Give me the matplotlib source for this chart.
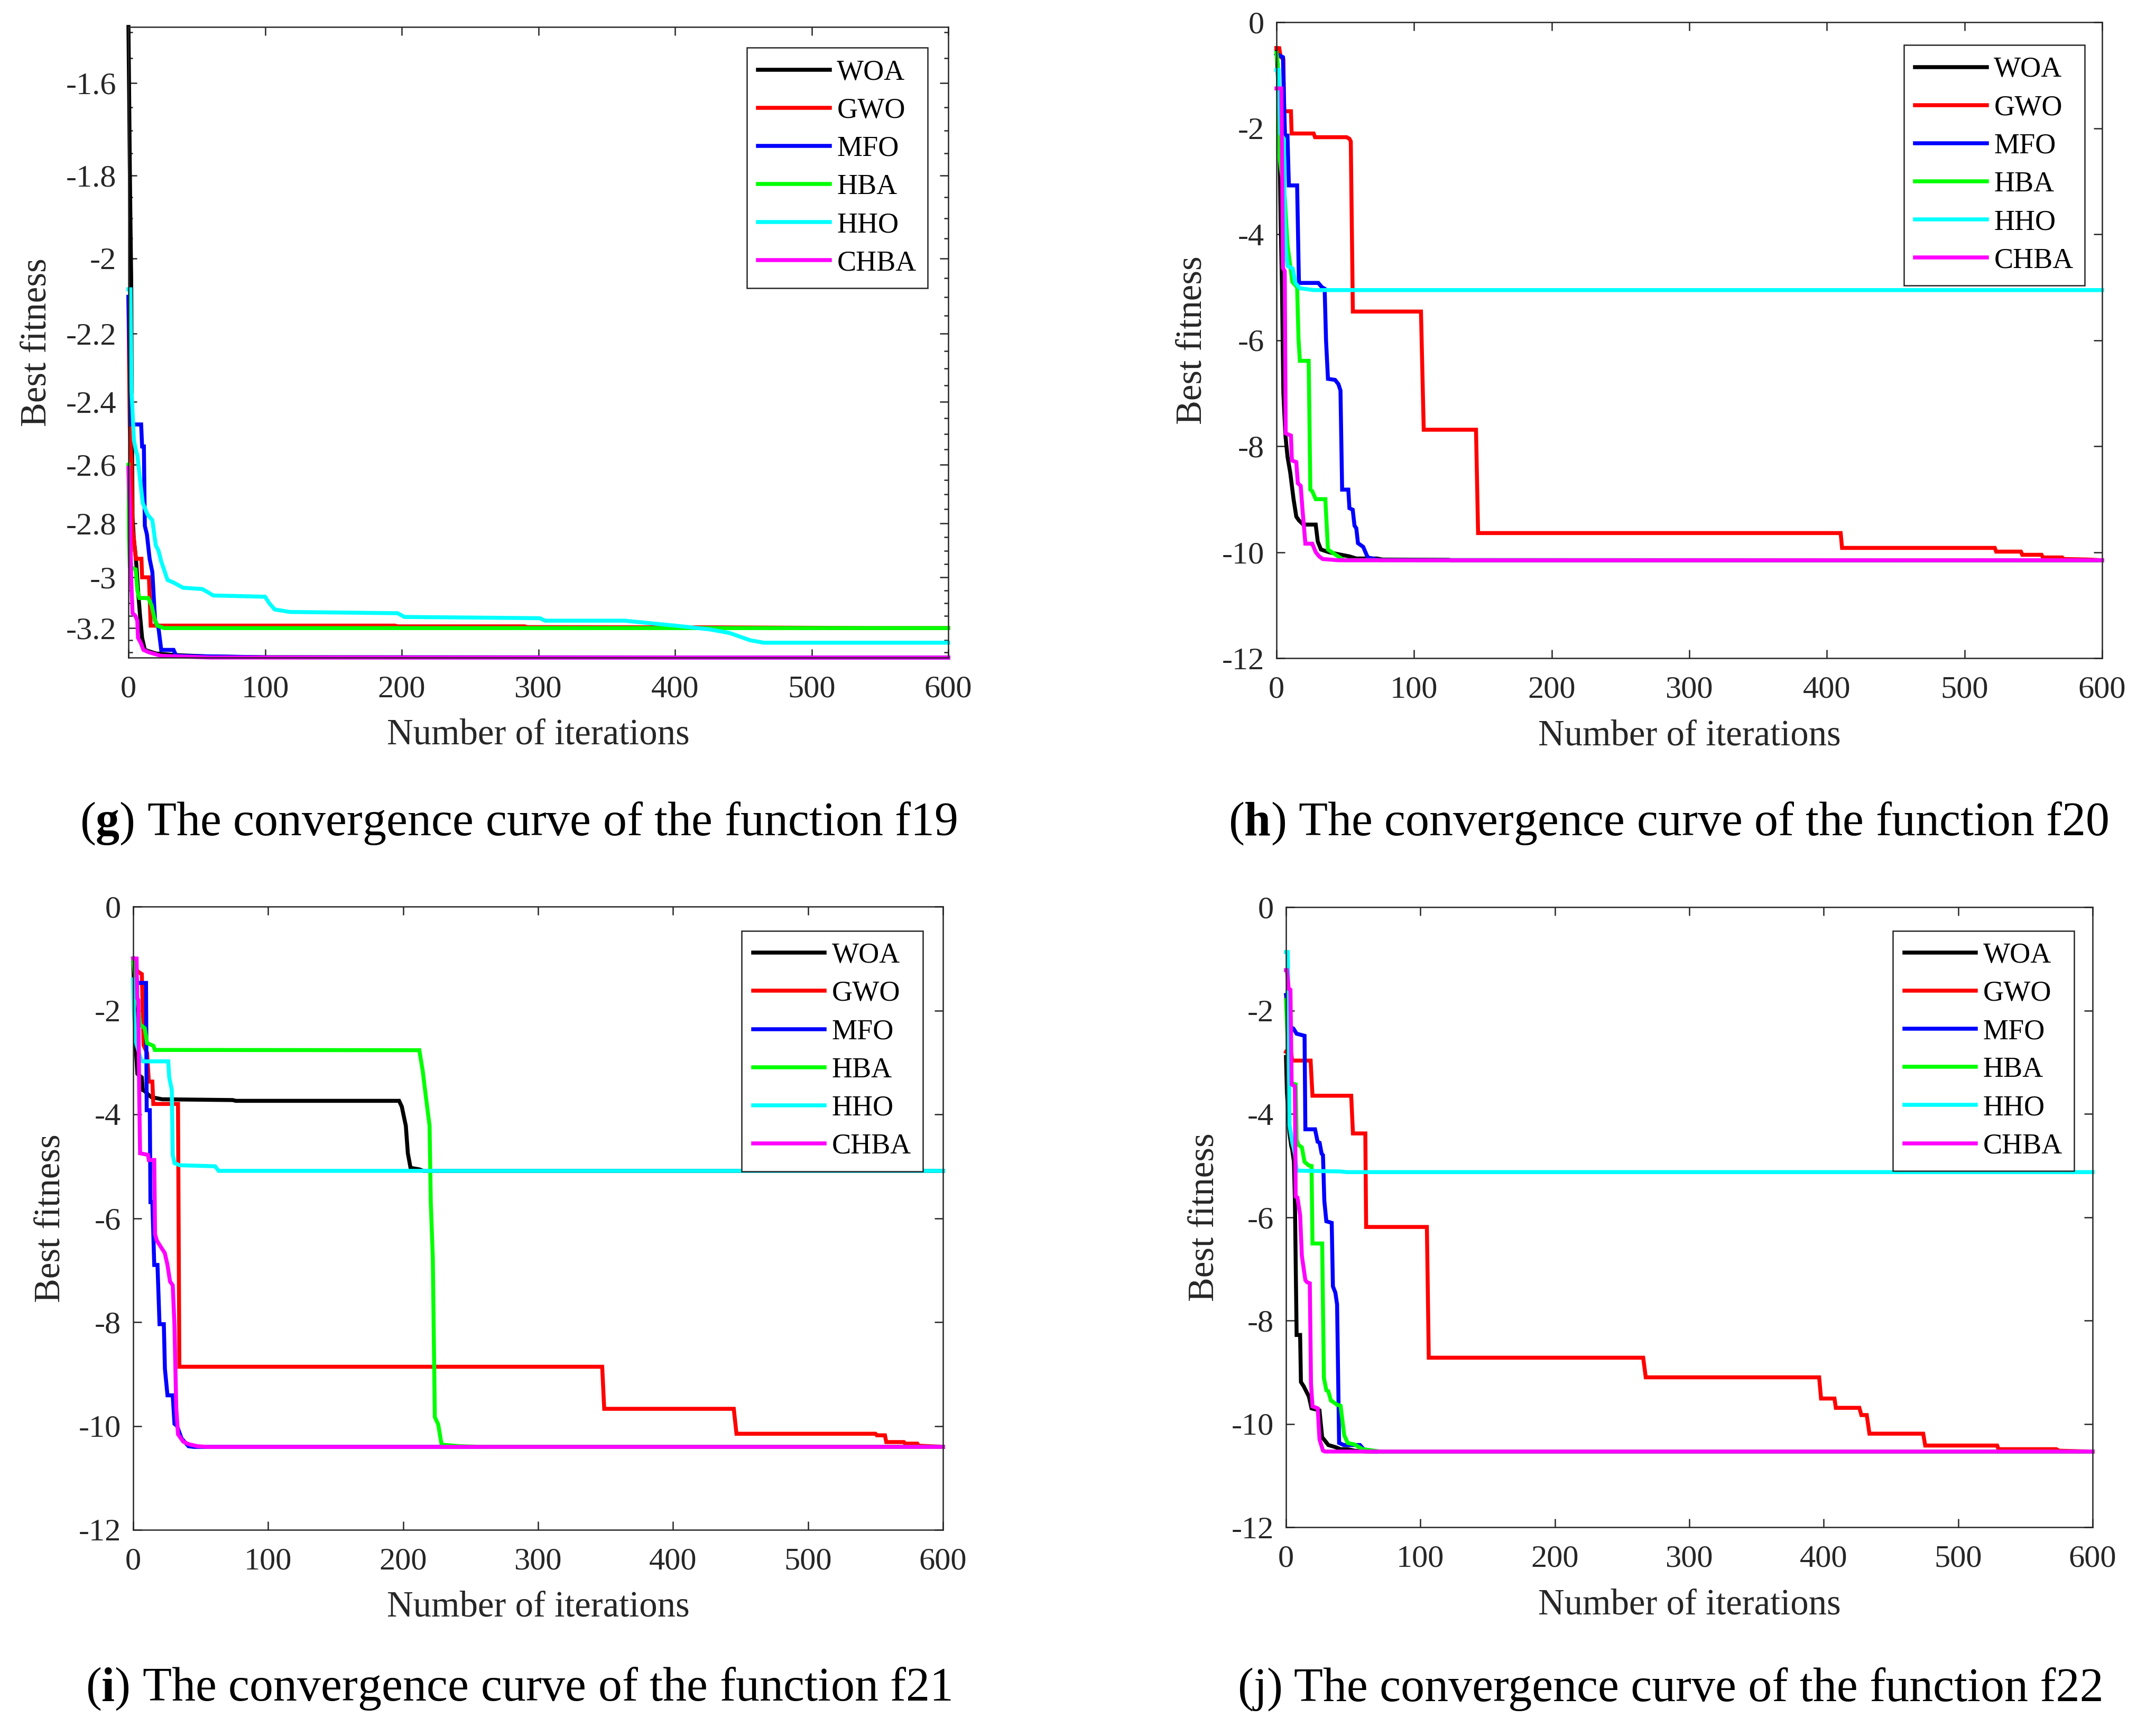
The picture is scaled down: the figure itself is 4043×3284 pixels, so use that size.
import numpy as np
import matplotlib
matplotlib.use("Agg")
import matplotlib.pyplot as plt

plt.rcParams['font.family'] = ['Liberation Serif', 'DejaVu Serif']
plt.rcParams['mathtext.fontset'] = 'custom'
plt.rcParams['mathtext.rm'] = 'Liberation Serif'
plt.rcParams['mathtext.bf'] = 'Liberation Serif:bold'
plt.rcParams['axes.unicode_minus'] = False

ALGOS = ['WOA', 'GWO', 'MFO', 'HBA', 'HHO', 'CHBA']
COLORS = ['#000000', '#ff0000', '#0000ff', '#00ff00', '#00ffff', '#ff00ff']
ITER_TICKS = [0, 100, 200, 300, 400, 500, 600]

# ---- f19 (iteration, best fitness) ----
f19_woa = [(0, -1.49), (0.5, -1.62), (1, -1.78), (1.5, -1.92), (2, -2.05), (2.5, -2.45),
           (3, -2.78), (4, -2.86), (5.5, -2.93), (7, -3.05), (8.5, -3.15), (10, -3.24),
           (12, -3.29), (20, -3.305), (35, -3.312), (60, -3.318), (100, -3.321), (600, -3.3224)]
f19_gwo = [(0, -2.10), (0.5, -2.3), (1, -2.48), (2.2, -2.6), (3, -2.82), (4, -2.86),
           (5.4, -2.93), (9.5, -2.93), (10, -3.0), (15, -3.0), (16.3, -3.19), (195, -3.19),
           (197, -3.193), (290, -3.193), (292, -3.196), (430, -3.197), (540, -3.2), (600, -3.2)]
f19_mfo = [(0, -2.1), (1, -2.3), (2, -2.47), (9.3, -2.47), (10, -2.54), (11.3, -2.54),
           (12, -2.81), (13.5, -2.84), (15.5, -2.93), (17.5, -2.98), (19.5, -3.17), (22, -3.2),
           (24, -3.29), (33, -3.29), (35, -3.315), (100, -3.321), (600, -3.3224)]
f19_hba = [(0, -2.60), (0.4, -2.85), (1, -2.96), (5.3, -2.97), (6.5, -3.05), (8, -3.08),
           (14.5, -3.08), (17, -3.11), (19, -3.16), (21, -3.19), (26, -3.2), (600, -3.2)]
f19_hho = [(0, -2.08), (1.5, -2.08), (2.3, -2.37), (4, -2.52), (5.3, -2.55), (6.6, -2.57),
           (8, -2.63), (10.5, -2.73), (14, -2.77), (17.5, -2.79), (20, -2.88), (22, -2.90),
           (24, -2.94), (26, -2.97), (28.6, -3.01), (33, -3.02), (40, -3.04), (54, -3.045),
           (59, -3.06), (62, -3.07), (100, -3.075), (103, -3.1), (107, -3.125), (118, -3.135),
           (197, -3.14), (202, -3.155), (301, -3.16), (305, -3.17), (363, -3.17), (400, -3.19),
           (425, -3.205), (440, -3.22), (455, -3.25), (465, -3.26), (600, -3.26)]
f19_chba = [(0, -2.61), (1, -2.75), (2, -3.0), (3, -3.14), (5, -3.15), (6.5, -3.17),
            (7, -3.24), (9, -3.26), (11, -3.29), (15, -3.30), (24, -3.315), (60, -3.322),
            (600, -3.3224)]

# ---- f20 ----
f20_woa = [(0, -0.49), (1, -1.0), (2, -2.0), (3, -3.7), (4, -5.0), (5, -7.0), (6.5, -7.8),
           (8, -8.2), (10, -8.5), (12.4, -9.0), (14.4, -9.33), (16.3, -9.4), (19.5, -9.48),
           (28.5, -9.48), (30, -9.8), (32.3, -9.95), (38, -10.0), (45, -10.04), (53, -10.08),
           (58, -10.12), (73, -10.12), (77, -10.14), (125, -10.145), (127, -10.153), (600, -10.153)]
f20_gwo = [(0, -0.49), (2, -0.49), (3, -0.65), (5, -0.7), (5.5, -1.68), (10.5, -1.68),
           (11, -2.10), (27, -2.10), (28, -2.17), (51, -2.17), (53, -2.2), (54, -2.25),
           (55.5, -5.46), (105, -5.46), (107, -7.69), (145, -7.69), (146.5, -9.64), (410, -9.64),
           (411, -9.92), (522, -9.92), (523, -9.99), (541, -9.99), (542, -10.05), (556, -10.05),
           (557, -10.1), (571, -10.1), (572, -10.13), (590, -10.14), (600, -10.153)]
f20_mfo = [(0, -0.6), (4.7, -0.66), (5.5, -1.5), (6.2, -2.14), (8, -2.14), (9, -3.08),
           (15, -3.08), (16.3, -4.92), (30.4, -4.92), (33, -5.0), (35, -5.03), (36, -6.0),
           (37.4, -6.73), (42.6, -6.75), (45, -6.83), (46.5, -6.95), (47.7, -8.82), (52.2, -8.82),
           (53, -9.17), (55.4, -9.2), (56.7, -9.5), (58, -9.55), (59.2, -9.83), (63, -9.9),
           (66.3, -10.1), (75, -10.15), (600, -10.153)]
f20_hba = [(0, -0.58), (1, -0.8), (2, -2.5), (4, -2.9), (6, -3.3), (8, -4.2), (9.5, -4.5),
           (11.5, -4.9), (15, -5.0), (16, -5.97), (17, -6.39), (23.4, -6.39), (24.6, -8.82),
           (26, -8.85), (28.5, -9.0), (35.5, -9.0), (37.4, -9.95), (43, -10.05), (46, -10.1),
           (49, -10.15), (600, -10.153)]
f20_hho = [(0, -0.9), (1.5, -0.9), (2.2, -1.57), (2.8, -2.1), (5.4, -2.2), (6, -3.63),
           (6.7, -4.25), (8, -4.6), (11.8, -4.65), (13.7, -4.92), (17, -5.02), (27, -5.055),
           (600, -5.055)]
f20_chba = [(0, -1.25), (3.5, -1.25), (4.2, -3.0), (4.7, -4.64), (6, -4.7), (6.7, -7.76),
            (10.5, -7.8), (11.2, -8.27), (14.4, -8.3), (15.5, -8.7), (17.6, -8.75), (18.9, -9.2),
            (21, -9.84), (26, -9.84), (28.5, -10.0), (31, -10.08), (33.6, -10.13), (45, -10.153),
            (600, -10.153)]

# ---- f21 ----
f21_woa = [(0, -1.02), (1.8, -2.67), (3.1, -3.22), (6.4, -3.29), (7, -3.53), (8.4, -3.55),
           (11.6, -3.63), (13.6, -3.67), (21.4, -3.71), (73.7, -3.725), (76, -3.74), (197, -3.74),
           (199, -3.85), (202, -4.22), (203.5, -4.75), (205.5, -5.03), (212, -5.06), (215, -5.088),
           (600, -5.088)]
f21_gwo = [(0, -1.0), (2, -1.2), (3.5, -1.25), (6.4, -1.3), (7.7, -2.67), (10.3, -2.82),
           (11.6, -3.37), (14.2, -3.37), (14.9, -3.80), (33.2, -3.80), (34.2, -8.86), (347.5, -8.86),
           (349, -9.67), (445, -9.67), (447, -10.15), (550, -10.15), (551, -10.18), (557, -10.18),
           (558, -10.31), (571, -10.31), (572, -10.34), (581, -10.34), (582, -10.38), (590, -10.39),
           (600, -10.40)]
f21_mfo = [(0, -1.0), (2, -1.3), (3.1, -1.47), (9.5, -1.47), (10, -3.92), (12.3, -3.92),
           (12.8, -5.69), (14.2, -5.69), (15.6, -6.9), (18, -6.9), (19.5, -8.04), (22.7, -8.04),
           (23.5, -8.9), (25.4, -9.41), (29.3, -9.41), (30.6, -9.96), (32.5, -10.0), (35.8, -10.24),
           (41, -10.39), (45, -10.403), (600, -10.403)]
f21_hba = [(0, -1.02), (1.8, -1.5), (5.1, -2.27), (8.5, -2.34), (10.3, -2.63), (15, -2.68),
           (16, -2.76), (212, -2.765), (214.5, -3.16), (217, -3.69), (219.6, -4.22), (220.5, -5.7),
           (222, -6.76), (223.5, -9.83), (226, -9.97), (228.5, -10.36), (242, -10.39), (260, -10.403),
           (600, -10.403)]
f21_hho = [(0, -1.4), (0.5, -2.0), (1.8, -2.59), (5.7, -2.94), (7, -2.98), (26, -2.98),
           (26.7, -3.29), (28.6, -3.53), (29.3, -4.78), (30.6, -4.94), (34.5, -4.98), (60.7, -5.0),
           (63.3, -5.088), (600, -5.088)]
f21_chba = [(0, -1.0), (2.5, -1.0), (3, -1.77), (3.8, -1.8), (4.4, -3.5), (5.1, -4.75),
            (11, -4.78), (11.6, -4.88), (15.6, -4.88), (16.2, -6.31), (17.5, -6.43), (21.4, -6.59),
            (23.4, -6.67), (25.4, -6.9), (27.3, -7.22), (29.3, -7.29), (30.6, -8.08), (31.9, -9.65),
            (33.2, -10.16), (37, -10.3), (41, -10.35), (47.6, -10.39), (55, -10.403), (600, -10.403)]

# ---- f22 ----
f22_woa = [(0, -2.9), (0.7, -3.6), (2.6, -4.38), (3.9, -4.62), (4.6, -4.69), (5.9, -4.93),
           (6.6, -5.64), (7.9, -8.28), (10.5, -8.28), (11.1, -9.19), (13.1, -9.27), (17, -9.47),
           (19, -9.7), (24.9, -9.74), (26.9, -10.26), (28.2, -10.3), (31.5, -10.41), (36.7, -10.45),
           (40.6, -10.49), (45.9, -10.49), (51, -10.52), (60, -10.536), (600, -10.536)]
f22_gwo = [(0, -2.8), (4, -2.85), (4.6, -2.97), (18.3, -2.97), (19.7, -3.65), (48.5, -3.65),
           (49.8, -4.38), (59, -4.38), (59.6, -6.19), (104.8, -6.19), (106.2, -8.72), (265.7, -8.72),
           (267.6, -9.10), (396.6, -9.10), (398, -9.51), (408, -9.51), (409, -9.69), (426.5, -9.69),
           (428, -9.83), (432, -9.83), (434, -10.19), (474, -10.19), (475.5, -10.42), (529, -10.42),
           (530, -10.49), (573, -10.49), (575, -10.52), (590, -10.53), (600, -10.536)]
f22_mfo = [(0, -1.7), (2.2, -2.31), (5.5, -2.35), (7.9, -2.45), (13.8, -2.49), (14.4, -4.3),
           (21.6, -4.3), (23.5, -4.54), (25, -4.56), (26.5, -4.77), (27.5, -4.8), (28.5, -5.68),
           (30, -6.08), (34, -6.11), (34.9, -7.34), (36.7, -7.46), (38, -7.69), (39.5, -10.37),
           (43, -10.41), (55, -10.41), (57.7, -10.49), (65, -10.536), (600, -10.536)]
f22_hba = [(0, -1.8), (2.5, -3.4), (7.2, -3.43), (7.9, -4.5), (9.2, -4.6), (11.8, -4.65),
           (13.8, -4.93), (17, -5.0), (19, -5.01), (19.7, -6.51), (26.9, -6.51), (28.2, -9.11),
           (30, -9.35), (31.5, -9.37), (33.4, -9.55), (34.7, -9.57), (38, -9.63), (40.6, -9.65),
           (43.3, -10.22), (45.9, -10.37), (51, -10.4), (57, -10.49), (70, -10.536), (600, -10.536)]
f22_hho = [(0, -0.87), (1.3, -0.87), (2, -2.17), (2.6, -4.22), (4.6, -4.54), (6.6, -4.77),
           (7.9, -5.1), (40, -5.115), (45, -5.1285), (600, -5.1285)]
f22_chba = [(0, -1.22), (0.7, -1.22), (2, -1.58), (3.3, -1.6), (4.2, -3.43), (6.6, -3.47),
            (7.2, -5.6), (8.5, -5.62), (10.5, -5.96), (11.8, -6.75), (14.4, -7.22), (15.7, -7.26),
            (17.7, -7.28), (18.6, -9.23), (19.7, -9.66), (23.6, -9.7), (24.9, -10.3), (27.5, -10.52),
            (29, -10.536), (600, -10.536)]

f19_yticks = [-3.2, -3.0, -2.8, -2.6, -2.4, -2.2, -2.0, -1.8, -1.6]
f19_ylim = (-3.3224, -1.49)
shekel_yticks = [-12, -10, -8, -6, -4, -2, 0]
shekel_ylim = (-12, 0)

captions = [r"($\mathbf{g}$) The convergence curve of the function f19",
            r"($\mathbf{h}$) The convergence curve of the function f20",
            r"($\mathbf{i}$) The convergence curve of the function f21",
            "(j) The convergence curve of the function f22"]

W, H = 4043, 3284
fig = plt.figure(figsize=(W / 300, H / 300), dpi=300)
DARK = '#262626'


def box(l, t, r, b):
    return [l / W, 1 - b / H, (r - l) / W, (b - t) / H]


def fwd(y):
    return -np.log10(np.clip(-np.asarray(y, dtype=float), 1e-12, None))


def inv(t):
    return -10.0 ** (-np.asarray(t, dtype=float))


def panel(rect, series, logy, leg_anchor, ylab_x):
    ax = fig.add_axes(rect)
    if logy:
        ax.set_yscale('function', functions=(fwd, inv))
    for s, name, col in zip(series, ALGOS, COLORS):
        it = [p[0] for p in s]
        fit = [p[1] for p in s]
        ax.plot(it, fit, color=col, lw=1.8, label=name, clip_on=False, solid_joinstyle='miter')
    ax.set_xlim(0, 600)
    ax.set_xticks(ITER_TICKS)
    if logy:
        ax.set_ylim(*f19_ylim)
        ax.set_yticks(f19_yticks)
        ax.set_yticklabels([f"{v:g}" for v in f19_yticks])
        ax.set_yticks(np.arange(-3.30, -1.49, 0.05), minor=True)
    else:
        ax.set_ylim(*shekel_ylim)
        ax.set_yticks(shekel_yticks)
        ax.set_yticklabels([f"{v:g}" for v in shekel_yticks])
        ax.yaxis.set_minor_locator(matplotlib.ticker.NullLocator())
    ax.xaxis.set_minor_locator(matplotlib.ticker.NullLocator())
    ax.tick_params(which='both', direction='in', top=True, right=True, colors=DARK,
                   width=0.6, labelsize=14.5)
    ax.tick_params(which='major', length=3.8)
    ax.tick_params(which='minor', length=1.9)
    ax.tick_params(axis='x', pad=8)
    ax.tick_params(axis='y', pad=5.5)
    for sp in ax.spines.values():
        sp.set_color(DARK)
        sp.set_linewidth(0.6)
    ax.set_xlabel('Number of iterations', fontsize=16.5, color=DARK)
    ax.set_ylabel('Best fitness', fontsize=16.5, color=DARK)
    ax.xaxis.set_label_coords(0.5, -164 / (rect[3] * H))
    ax.xaxis.label.set_verticalalignment('baseline')
    ax.yaxis.set_label_coords(ylab_x, 0.5)
    ax.yaxis.label.set_verticalalignment('baseline')
    leg = ax.legend(loc='upper right', bbox_to_anchor=leg_anchor, borderaxespad=0,
                    fancybox=False, edgecolor=DARK, framealpha=1, fontsize=13,
                    handlelength=2.5, handletextpad=0.25, labelspacing=0.4, borderpad=0.4)
    leg.get_frame().set_linewidth(0.6)
    return ax


panel(box(243, 51, 1794, 1244), [f19_woa, f19_gwo, f19_mfo, f19_hba, f19_hho, f19_chba],
      True, (0.975, 0.967), -0.1006)
panel(box(2415, 42, 3977, 1245), [f20_woa, f20_gwo, f20_mfo, f20_hba, f20_hho, f20_chba],
      False, (0.979, 0.964), -0.091)
panel(box(252, 1715, 1784, 2894), [f21_woa, f21_gwo, f21_mfo, f21_hba, f21_hho, f21_chba],
      False, (0.975, 0.961), -0.091)
panel(box(2433, 1716, 3959, 2889), [f22_woa, f22_gwo, f22_mfo, f22_hba, f22_hho, f22_chba],
      False, (0.977, 0.962), -0.090)

cap_pos = [(981, 1580), (3157, 1580), (981, 3217), (3161, 3218)]
for (cx, cy), txt in zip(cap_pos, captions):
    fig.text(cx / W, 1 - cy / H, txt, ha='center', va='baseline', fontsize=21.6, color='black')

fig.savefig('out.png', dpi=300)
